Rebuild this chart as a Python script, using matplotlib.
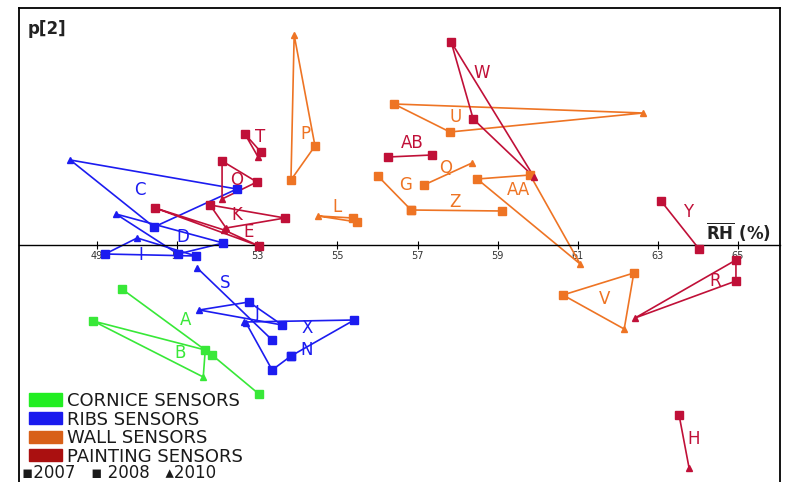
import matplotlib
matplotlib.use("Agg")
import matplotlib.pyplot as plt
from matplotlib.patches import Patch

# RH mean (%) on x, p[2] score on y, per sensor: years 2007, 2008, 2010
cornice_x = {"A": [49.62, 51.87, 53.04], "B": [48.90, 51.70, 51.65]}
cornice_y = {"A": [-0.88, -2.20, -2.98], "B": [-1.52, -2.10, -2.64]}
cornice_yr = {"A": [2007, 2008, 2007], "B": [2007, 2008, 2010]}

ribs_x = {"C": [48.33, 52.49, 50.42], "D": [49.47, 52.15, 51.02],
          "I": [49.20, 50.00, 51.47], "S": [51.50, 53.37],
          "J": [51.55, 52.79, 53.62], "X": [52.67, 55.42, 53.84],
          "N": [52.72, 53.37, 53.84]}
ribs_y = {"C": [1.70, 1.12, 0.36], "D": [0.62, 0.04, -0.18],
          "I": [-0.18, 0.14, -0.22], "S": [-0.46, -1.90],
          "J": [-1.30, -1.14, -1.60], "X": [-1.54, -1.50, -2.22],
          "N": [-1.56, -2.50, -2.22]}
ribs_yr = {"C": [2010, 2008, 2007], "D": [2010, 2008, 2007],
           "I": [2007, 2010, 2008], "S": [2010, 2008],
           "J": [2010, 2007, 2008], "X": [2010, 2007, 2008],
           "N": [2010, 2007, 2008]}

wall_x = {"P": [53.92, 54.44, 53.84], "L": [54.52, 55.39, 55.49],
          "G": [56.01, 56.84], "Z": [56.84, 59.11], "Q": [57.16, 58.36],
          "U": [56.41, 57.81, 62.63], "AA": [58.49, 59.81, 61.06],
          "V": [60.63, 62.40, 62.16]}
wall_y = {"P": [4.20, 1.98, 1.30], "L": [0.58, 0.54, 0.46],
          "G": [1.38, 0.70], "Z": [0.70, 0.68], "Q": [1.20, 1.64],
          "U": [2.82, 2.26, 2.64], "AA": [1.32, 1.40, -0.38],
          "V": [-1.00, -0.56, -1.68]}
wall_yr = {"P": [2010, 2008, 2007], "L": [2010, 2008, 2007],
           "G": [2007, 2008], "Z": [2007, 2008], "Q": [2008, 2010],
           "U": [2007, 2008, 2010], "AA": [2007, 2008, 2010],
           "V": [2007, 2008, 2010]}

paint_x = {"T": [52.69, 53.09, 53.02], "O": [52.12, 52.99, 52.12],
           "K": [51.82, 53.69, 52.22], "E": [50.45, 53.04, 52.17],
           "AB": [56.26, 57.36], "W": [57.84, 58.39, 59.91],
           "Y": [63.08, 64.03], "R": [64.95, 64.95, 62.43],
           "H": [63.53, 63.78]}
paint_y = {"T": [2.22, 1.86, 1.76], "O": [1.68, 1.26, 0.92],
           "K": [0.80, 0.54, 0.34], "E": [0.74, -0.02, 0.30],
           "AB": [1.76, 1.80], "W": [4.06, 2.52, 1.36],
           "Y": [0.88, -0.08], "R": [-0.30, -0.72, -1.46],
           "H": [-3.40, -4.46]}
paint_yr = {"T": [2007, 2008, 2010], "O": [2007, 2008, 2010],
            "K": [2007, 2008, 2010], "E": [2007, 2008, 2010],
            "AB": [2007, 2008], "W": [2007, 2008, 2010],
            "Y": [2007, 2008], "R": [2007, 2008, 2010],
            "H": [2008, 2010]}

# sensors whose three years are joined as a closed triangle
closed = {"B", "C", "D", "I", "J", "P", "L", "U", "AA", "V",
          "T", "O", "K", "E", "W", "R"}

# where the sensor letter is written
label_xy = {"A": (51.22, -1.50), "B": (51.07, -2.16), "C": (50.07, 1.10),
            "D": (51.15, 0.16), "I": (50.10, -0.20), "S": (52.20, -0.76),
            "J": (52.99, -1.36), "X": (54.24, -1.66), "N": (54.24, -2.10),
            "P": (54.19, 2.22), "L": (54.99, 0.76), "G": (56.69, 1.20),
            "Z": (57.94, 0.86), "Q": (57.69, 1.54), "U": (57.96, 2.56),
            "AA": (59.53, 1.10), "V": (61.66, -1.08), "T": (53.07, 2.16),
            "O": (52.49, 1.30), "K": (52.49, 0.60), "E": (52.79, 0.26),
            "AB": (56.86, 2.04), "W": (58.61, 3.44), "Y": (63.75, 0.66),
            "R": (64.43, -0.72), "H": (63.90, -3.88)}

groups = [
    (cornice_x, cornice_y, cornice_yr, "#38e838"),
    (ribs_x, ribs_y, ribs_yr, "#1c1cf0"),
    (wall_x, wall_y, wall_yr, "#ee7424"),
    (paint_x, paint_y, paint_yr, "#c01038"),
]
legend_cols = ["#22ee22", "#1a1aee", "#d86018", "#aa1010"]
legend_names = ["CORNICE SENSORS", "RIBS SENSORS", "WALL SENSORS",
                "PAINTING SENSORS"]

fig = plt.figure(figsize=(7.89, 4.82), dpi=100)
ax = fig.add_axes([19 / 789, 0.0, 761 / 789, 1 - 8 / 482])

for gx, gy, gyr, col in groups:
    for name in gx:
        xs, ys = list(gx[name]), list(gy[name])
        if name in closed:
            xs.append(xs[0])
            ys.append(ys[0])
        ax.plot(xs, ys, color=col, lw=1.2, zorder=2)
        for x, y, yr in zip(gx[name], gy[name], gyr[name]):
            if yr == 2010:
                ax.plot(x, y, marker="^", ms=5, color=col, zorder=3)
            else:
                ax.plot(x, y, marker="s", ms=6, color=col, zorder=3)
        lx, ly = label_xy[name]
        ax.text(lx, ly, name, color=col, fontsize=12, ha="center",
                va="center", zorder=4)

ax.set_xlim(47.05, 66.05)
ax.set_ylim(-4.74, 4.74)
ax.spines["bottom"].set_position(("data", 0))
ax.spines["bottom"].set_linewidth(1.0)
for s in ["left", "top", "right"]:
    ax.spines[s].set_linewidth(1.3)
ax.set_xticks(range(49, 66, 2))
ax.tick_params(axis="x", direction="inout", length=6, labelsize=7,
               labelcolor="#333333", pad=1)
ax.set_yticks([])

ax.text(0.011, 0.955, "p[2]", transform=ax.transAxes, fontsize=12,
        fontweight="bold", va="center", color="#222222")
ax.text(65.0, 0.26, r"$\overline{\mathbf{RH}}$ (%)", fontsize=12,
        fontweight="bold", ha="center", va="center", color="#222222")

handles = [Patch(color=c) for c in legend_cols]
leg = fig.legend(handles, legend_names, loc="upper left",
                 bbox_to_anchor=(29 / 789, 1 - 392 / 482), frameon=False,
                 fontsize=13, handlelength=1.8, handleheight=0.68,
                 labelspacing=0.03, handletextpad=0.3, borderaxespad=0,
                 borderpad=0)
for t in leg.get_texts():
    t.set_color("#1a1a1a")
fig.text(22 / 789, 1 - 473 / 482, "▪2007   ▪ 2008   ▴2010", fontsize=12,
         va="center", color="#1a1a1a")

fig.savefig("out.png", dpi=100)
